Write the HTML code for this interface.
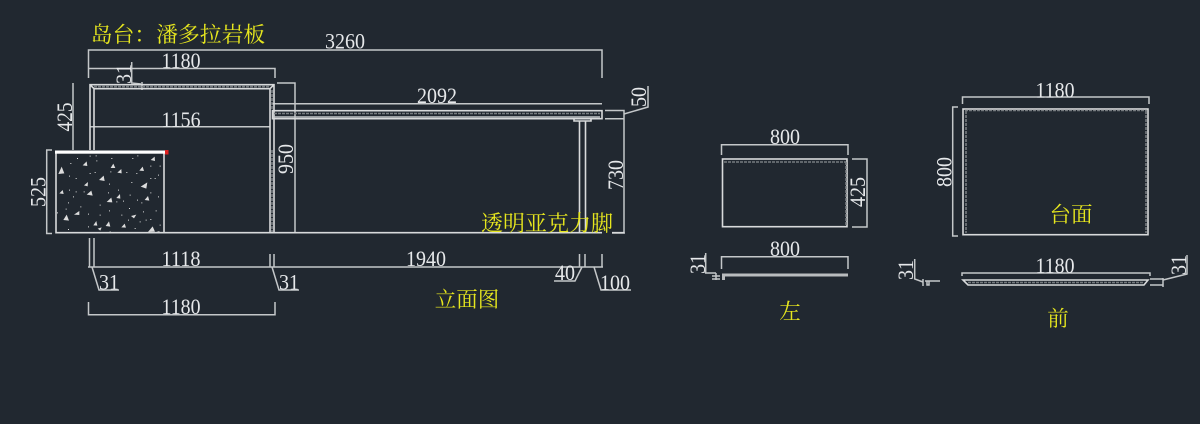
<!DOCTYPE html>
<html><head><meta charset="utf-8"><style>
html,body{margin:0;padding:0;background:#212830;width:1200px;height:424px;overflow:hidden}
svg{display:block}
.l{stroke:#c4c7c9;stroke-width:1.5;fill:none}
.t{stroke:#d8dadb;stroke-width:1.6;fill:none}
.d{stroke:#777c80;stroke-width:1.6;fill:none;stroke-dasharray:3 1}
text.n{font-family:"Liberation Serif",serif;font-size:22px;fill:#e6e8ea;text-anchor:middle}
text.c{font-family:"Liberation Serif","Noto Serif CJK SC",serif;fill:#e6e61e;text-anchor:middle}
</style></head><body>
<svg xmlns="http://www.w3.org/2000/svg" width="1200" height="424" viewBox="0 0 1200 424">
<rect width="1200" height="424" fill="#212830"/>

<!-- dimensions, elevation -->
<path class="l" d="M88.5 78V50H602V78M88.5 68.5H275V78M73 83V150M131.7 62V83L141 84M142 82V90M90 126.7H270M277 83H295V233M46.7 150V234M46 150H52M46 233.5H52M605 110.5H624V233M605 118.7H624M624 114L648 107V86M612 233H625M88 267H603M89.5 238V267M94 238V267M270 254V267M274 254V267M579.5 254V267M585 254V267M602 254V267M92 267L99 290H119M272 267L279 290H299M582 267L575 281H554M594 267L601 290H631M88.5 302V314.7H275V302M272 103.7H602"/>

<!-- frame -->
<path class="t" d="M90 150V84.7H274V233M94 150V88.7H270V233M90 84.7L94 88.7M274 84.7L270 88.7"/>
<path class="d" d="M94 86.7H270M272 150V233M272 90V110"/>

<!-- desk top -->
<path class="t" d="M272.5 110.7H602V118.7H272.5ZM574 118.7V121H591V118.7M579.5 121V233M585.5 121V233"/>
<path class="d" d="M274 113.5H600"/>
<path class="l" d="M274 117H600"/>

<!-- stone block -->
<path class="t" d="M56 152V232.7H602M612 232.7H624M164 152V232.7"/>
<rect x="55" y="150.5" width="111" height="3.2" fill="#fff"/>
<rect x="165" y="150" width="3.5" height="4.5" fill="#e02020"/>
<g transform="translate(20 140) scale(.3333)" fill="#dcdcdc">
<path d="M115 102l10-22 8 20zM188 76l12-12 2 14zM272 84l8-13 6 13zM392 60l12-10 1 13zM292 98l12-11 1 13zM358 92l10-12 4 13zM237 120l14-13 3 16zM192 136l12-10-1 13zM362 140l20-13-3 19zM118 160l10-10 3 12zM200 164l14-12 4 15zM289 174l11-12 1 14zM260 186l14-13 3 14zM374 180l10-12 4 14zM162 224l16-11 0 12zM130 240l10-16 7 18zM333 228l16-4-7 11zM220 256l9-13 3 14zM257 258l10-14 4 16zM304 262l10-11 4 12zM233 266l12-4-4 10zM384 276l14-17 7 16zM405 277l14-4-2 5z"/>
<path d="M171 54h3v3h-3zM209 47h3v3h-3zM227 46h3v3h-3zM229 61h3v3h-3zM151 69h3v3h-3zM274 54h3v3h-3zM337 54h3v3h-3zM352 46h3v3h-3zM391 77h3v3h-3zM419 77h3v3h-3zM209 99h3v3h-3zM224 96h3v3h-3zM167 114h3v3h-3zM147 107h3v3h-3zM271 94h3v3h-3zM319 96h3v3h-3zM349 99h3v3h-3zM391 114h3v3h-3zM404 114h3v3h-3zM414 104h3v3h-3zM334 126h3v3h-3zM267 131h3v3h-3zM294 149h3v3h-3zM147 149h3v3h-3zM167 154h3v3h-3zM191 154h3v3h-3zM264 157h3v3h-3zM329 164h3v3h-3zM391 157h3v3h-3zM414 169h3v3h-3zM144 187h3v3h-3zM159 169h3v3h-3zM239 194h3v3h-3zM309 182h3v3h-3zM351 179h3v3h-3zM364 187h3v3h-3zM289 184h3v3h-3zM407 211h3v3h-3zM369 214h3v3h-3zM181 199h3v3h-3zM137 206h3v3h-3zM267 211h3v3h-3zM204 221h3v3h-3zM304 224h3v3h-3zM239 224h3v3h-3zM327 204h3v3h-3zM377 239h3v3h-3zM391 237h3v3h-3zM359 244h3v3h-3zM204 259h3v3h-3zM344 264h3v3h-3zM419 254h3v3h-3zM144 267h3v3h-3zM324 239h3v3h-3zM269 274h3v3h-3zM111 217h3v3h-3z"/>
</g>

<!-- left view -->
<path class="l" d="M721.5 155V144.7H848V155M852 159H867V227H852M721.5 269V256.7H848V269M705.7 253V273L716 273M716 273V280M712 276H720M712 279H720"/>
<rect x="722.5" y="159" width="124.5" height="67.7" class="t"/>
<path class="d" d="M724 162H846M846 162V226"/>
<path d="M722 273.5H848V276.5H722ZM722 276.5H725V280H722Z" fill="#b9bcbe"/>

<!-- top view -->
<path class="l" d="M962.5 104V97H1149V104M958 107H952.7V236H958"/>
<rect x="963" y="109" width="185" height="125.7" class="t"/>
<path class="d" d="M965 110.5H1147M966 111V233M1146 111V233"/>

<!-- front view -->
<path class="l" d="M962 276V273H1150V276M914.7 259V279L923 282M923 279V286M925 281H940M927 281V285H929V281M1150 279H1163M1150 285H1163M1163 278V287M1163 280L1187 274V255"/>
<path class="t" d="M963 280H1148L1144 285H968Z"/>
<path class="d" d="M968 282.5H1144"/>

<!-- number labels -->
<g>
<text class="n" x="345" y="48.5" textLength="40" lengthAdjust="spacingAndGlyphs">3260</text>
<text class="n" x="181" y="68" textLength="39" lengthAdjust="spacingAndGlyphs">1180</text>
<text class="n" x="181" y="127" textLength="39" lengthAdjust="spacingAndGlyphs">1156</text>
<text class="n" x="437" y="103" textLength="40" lengthAdjust="spacingAndGlyphs">2092</text>
<text class="n" x="181" y="266" textLength="39" lengthAdjust="spacingAndGlyphs">1118</text>
<text class="n" x="426" y="266" textLength="40" lengthAdjust="spacingAndGlyphs">1940</text>
<text class="n" x="109" y="289.5" textLength="20" lengthAdjust="spacingAndGlyphs">31</text>
<text class="n" x="289" y="289.5" textLength="20" lengthAdjust="spacingAndGlyphs">31</text>
<text class="n" x="181" y="314" textLength="39" lengthAdjust="spacingAndGlyphs">1180</text>
<text class="n" x="565" y="280" textLength="20" lengthAdjust="spacingAndGlyphs">40</text>
<text class="n" x="615" y="290" textLength="30" lengthAdjust="spacingAndGlyphs">100</text>
<text class="n" x="785" y="144" textLength="30" lengthAdjust="spacingAndGlyphs">800</text>
<text class="n" x="785" y="256" textLength="30" lengthAdjust="spacingAndGlyphs">800</text>
<text class="n" x="1055" y="97.5" textLength="39" lengthAdjust="spacingAndGlyphs">1180</text>
<text class="n" x="1055" y="273" textLength="39" lengthAdjust="spacingAndGlyphs">1180</text>
<text class="n" transform="translate(72 117) rotate(-90)" textLength="29" lengthAdjust="spacingAndGlyphs">425</text>
<text class="n" transform="translate(131 74) rotate(-90)" textLength="20" lengthAdjust="spacingAndGlyphs">31</text>
<text class="n" transform="translate(45.5 192) rotate(-90)" textLength="30" lengthAdjust="spacingAndGlyphs">525</text>
<text class="n" transform="translate(293 159) rotate(-90)" textLength="30" lengthAdjust="spacingAndGlyphs">950</text>
<text class="n" transform="translate(623 175) rotate(-90)" textLength="30" lengthAdjust="spacingAndGlyphs">730</text>
<text class="n" transform="translate(646 97) rotate(-90)" textLength="20" lengthAdjust="spacingAndGlyphs">50</text>
<text class="n" transform="translate(865 192) rotate(-90)" textLength="30" lengthAdjust="spacingAndGlyphs">425</text>
<text class="n" transform="translate(705 264) rotate(-90)" textLength="20" lengthAdjust="spacingAndGlyphs">31</text>
<text class="n" transform="translate(951.5 172) rotate(-90)" textLength="30" lengthAdjust="spacingAndGlyphs">800</text>
<text class="n" transform="translate(913 270) rotate(-90)" textLength="20" lengthAdjust="spacingAndGlyphs">31</text>
<text class="n" transform="translate(1186 265) rotate(-90)" textLength="20" lengthAdjust="spacingAndGlyphs">31</text>
</g>

<!-- CJK labels -->
<text class="c" x="178" y="42" font-size="21.8">岛台：潘多拉岩板</text>
<text class="c" x="547" y="231" font-size="22">透明亚克力脚</text>
<text class="c" x="467" y="307" font-size="21.5">立面图</text>
<text class="c" x="790" y="319" font-size="21.5">左</text>
<text class="c" x="1071" y="222" font-size="21.5">台面</text>
<text class="c" x="1058" y="326" font-size="21.5">前</text>
</svg>
</body></html>
